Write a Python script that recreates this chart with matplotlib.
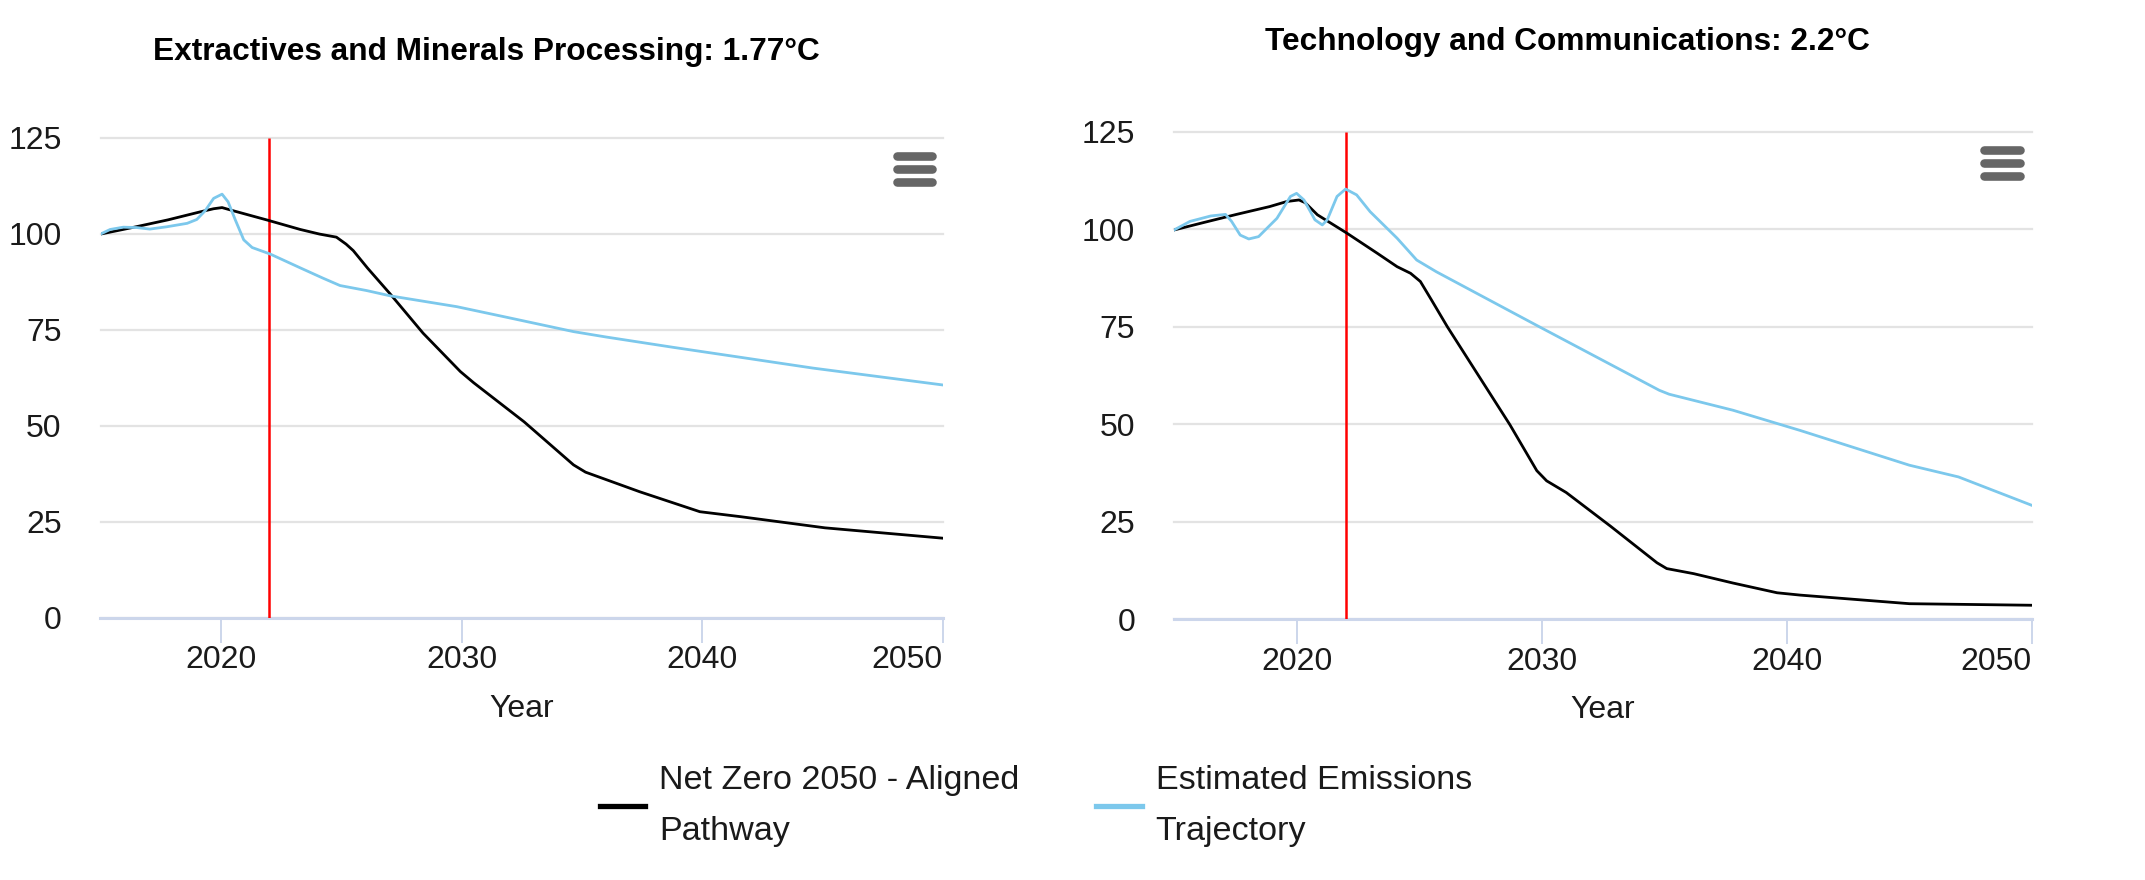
import matplotlib.pyplot as plt

plt.rcParams['font.family'] = ['Liberation Sans', 'DejaVu Sans']

W, H = 2145, 880
BLACK = '#000000'
BLUE = '#7cc8ec'

# left chart
left_net_years = [2015, 2016.4, 2017.8, 2019.15, 2019.7, 2020.05, 2020.5, 2021.9, 2023.3, 2024.1, 2024.8, 2025.2, 2025.5,
                  2026.1, 2027.05, 2028.4, 2029.95, 2030.5, 2032.6, 2034.65, 2035.15, 2037.4, 2039.9, 2041.6, 2045.1, 2050]
left_net = [99.9, 101.7, 103.6, 105.7, 106.5, 106.8, 106, 103.6, 101.1, 99.9, 99.1, 97.3, 95.6,
            91, 84.2, 74.1, 64.1, 61.2, 51, 39.8, 37.9, 32.8, 27.6, 26.3, 23.4, 20.7]
left_est_years = [2015, 2015.4, 2015.95, 2016.5, 2017.05, 2017.75, 2018.6, 2019, 2019.35, 2019.7, 2020.05, 2020.3, 2020.6,
                  2020.95, 2021.3, 2022.05, 2023.3, 2024.25, 2024.95, 2026.05, 2027.05, 2029.8, 2031.9, 2034.65,
                  2036, 2038.8, 2041.6, 2044.6, 2050]
left_est = [99.9, 101.1, 101.7, 101.6, 101.2, 101.8, 102.7, 103.7, 106, 109.2, 110.3, 108.3, 103.6,
            98.4, 96.4, 94.7, 91.1, 88.4, 86.5, 85.2, 83.8, 81, 78.2, 74.5,
            73.1, 70.4, 67.8, 65, 60.6]

# right chart
right_net_years = [2015, 2016.2, 2017.55, 2018.9, 2019.6, 2020.1, 2020.35, 2020.85, 2022.05, 2023.3, 2024.1, 2024.65, 2025.05,
                   2025.5, 2026.15, 2028.7, 2029.8, 2030.2, 2031, 2032.8, 2034.7, 2035.1, 2036.2, 2037.8, 2039.6,
                   2040.55, 2045, 2050]
right_net = [99.8, 101.7, 103.8, 105.8, 107.1, 107.5, 106.8, 103.7, 99, 93.8, 90.4, 88.7, 86.6,
             81.9, 75, 49.9, 38.1, 35.5, 32.5, 23.9, 14.5, 13, 11.7, 9.3, 6.8,
             6.2, 4, 3.6]
right_est_years = [2015, 2015.65, 2016.5, 2017.1, 2017.35, 2017.7, 2018.05, 2018.45, 2019.2, 2019.75, 2020, 2020.3, 2020.75,
                   2021.05, 2021.25, 2021.65, 2022, 2022.45, 2023, 2024.1, 2024.9, 2025.7, 2027.1, 2029.9, 2034.8,
                   2035.2, 2037.8, 2040.55, 2045, 2047, 2050]
right_est = [99.8, 102, 103.4, 103.8, 102, 98.5, 97.5, 98.1, 102.8, 108.4, 109.2, 107.5, 102.4,
             101.1, 102.4, 108.4, 110.3, 108.8, 104.5, 97.7, 92.1, 89.1, 84.4, 75, 58.7,
             57.7, 53.6, 48.4, 39.5, 36.5, 29.2]

y_ticks = [0, 25, 50, 75, 100, 125]
x_ticks = [2020, 2030, 2040, 2050]
marker_year = 2022

net_label = 'Net Zero 2050 - Aligned\nPathway'
est_label = 'Estimated Emissions\nTrajectory'


def draw_chart(box, title, title_pos, menu_x, menu_y, net, est):
    x0, x1, top, bottom = box
    ax = fig.add_axes([x0 / W, 1 - bottom / H, (x1 - x0) / W, (bottom - top) / H])
    net_line, = ax.plot(net[0], net[1], color=BLACK, lw=2.0, zorder=4)
    est_line, = ax.plot(est[0], est[1], color=BLUE, lw=2.0, zorder=4)
    ax.vlines(marker_year, 0, 125, color='#ff0000', lw=1.8, zorder=3)

    ax.set_xlim(2015, 2050)
    ax.set_ylim(0, 125)
    for name in ['top', 'left', 'right']:
        ax.spines[name].set_visible(False)
    ax.spines['bottom'].set_color('#ccd6eb')
    ax.spines['bottom'].set_linewidth(2.2)
    ax.grid(axis='y', color='#e3e3e3', lw=1.6, clip_on=False)
    ax.set_axisbelow(True)

    ax.set_yticks(y_ticks)
    ax.set_xticks(x_ticks)
    ax.tick_params(axis='y', length=0, pad=28, labelsize=23, labelcolor='#1a1a1a')
    ax.tick_params(axis='x', length=18, width=1.4, color='#ccd6eb', pad=2, labelsize=23, labelcolor='#1a1a1a')
    ax.get_xticklabels()[-1].set_ha('right')
    ax.set_xlabel('Year', fontsize=23, color='#1a1a1a', labelpad=13)

    ax.text((title_pos[0] - x0) / (x1 - x0), (bottom - title_pos[1]) / (bottom - top), title,
            transform=ax.transAxes, fontsize=22.8, fontweight='bold', ha='center', va='center', color=BLACK)

    # export menu icon
    for y_px in menu_y:
        ax.plot([(menu_x[0] - x0) / (x1 - x0), (menu_x[1] - x0) / (x1 - x0)],
                [(bottom - y_px) / (bottom - top)] * 2, transform=ax.transAxes,
                color='#666666', lw=6.2, solid_capstyle='round', zorder=5)
    return net_line, est_line


fig = plt.figure(figsize=(W / 100, H / 100), dpi=100, facecolor='white')

net_line, est_line = draw_chart((100.5, 943, 137.7, 617.7), 'Extractives and Minerals Processing: 1.77°C', (486, 52),
                                (897, 932), (156, 169, 182), (left_net_years, left_net), (left_est_years, left_est))
draw_chart((1174, 2032, 131.7, 619.3), 'Technology and Communications: 2.2°C', (1567, 42),
           (1984, 2020), (150, 163, 176), (right_net_years, right_net), (right_est_years, right_est))

leg = fig.legend([net_line, est_line], [net_label, est_label], loc='center', bbox_to_anchor=(1036 / W, 1 - 806 / H),
                 ncol=2, frameon=False, fontsize=24.6, handlelength=1.32, handletextpad=0.41, columnspacing=2.25,
                 labelspacing=0, borderpad=0, labelcolor='#1a1a1a')
for text in leg.get_texts():
    text.set_linespacing(1.8)
for handle in leg.legend_handles:
    handle.set_linewidth(3.8)

fig.savefig('out.png', dpi=100, facecolor='white')
